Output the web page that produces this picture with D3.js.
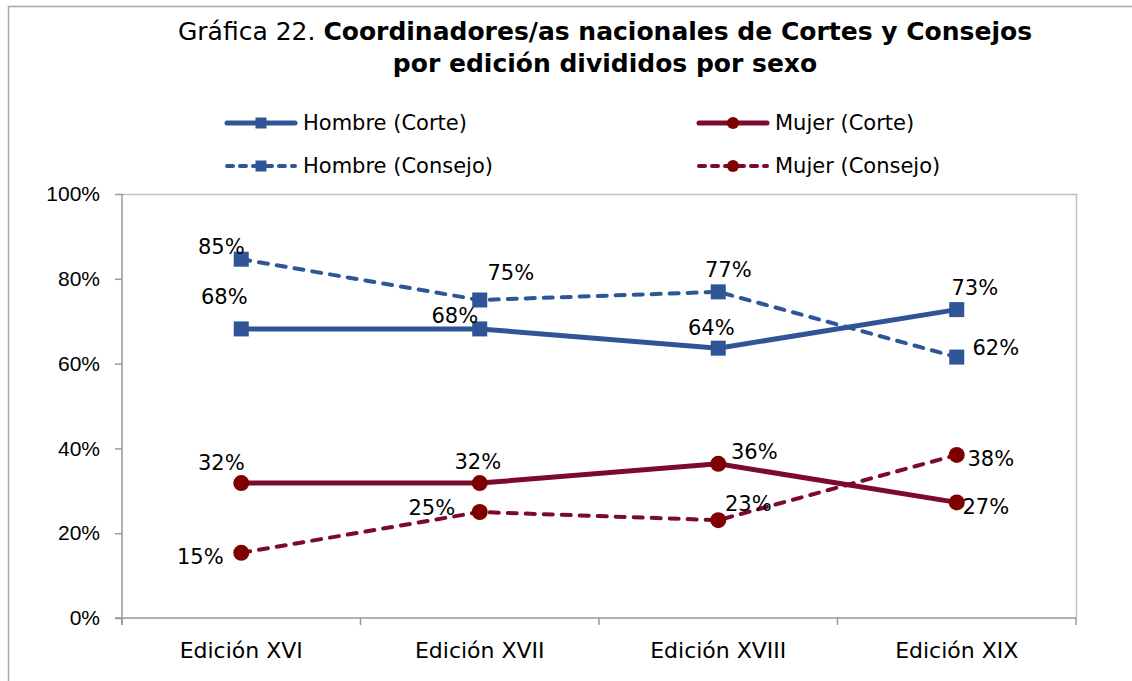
<!DOCTYPE html>
<html>
<head>
<meta charset="utf-8">
<script src="https://cdn.jsdelivr.net/npm/d3@7"></script>
<style>
  body { margin: 0; background: #fff; }
  svg { font-family: "Century Gothic", "DejaVu Sans", sans-serif; }
</style>
</head>
<body>
<svg id="chart"></svg>
<script>
// data (percent)
const categories = ["Edición XVI", "Edición XVII", "Edición XVIII", "Edición XIX"];
const hombreCorte = [68.18, 68.18, 63.64, 72.73];
const mujerCorte = [31.82, 31.82, 36.36, 27.27];
const hombreConsejo = [84.62, 75.0, 76.92, 61.54];
const mujerConsejo = [15.38, 25.0, 23.08, 38.46];
const yTicks = [0, 20, 40, 60, 80, 100];

const width = 1132;
const height = 681;
const margin = ({ top: 194, right: 56, bottom: 63, left: 122 });

const blue = "#2f5597";
const red = "#7b0a2c";
const redDot = "#7f0000";
const fs = 21;

// where each data label sits, relative to its point
const labelShift = {
    hc: [[-17, -32], [-25, -13], [-7, -20], [18, -22]],
    hs: [[-20, -12], [31, -27], [10, -22], [39, -9]],
    mc: [[-20, -20], [-2, -21], [36, -12], [29, 5]],
    ms: [[-41, 4], [-48, -4], [30, -16], [34, 4]]
};

const series = [
    { key: "hc", name: "Hombre (Corte)", values: hombreCorte, color: blue, fill: blue, dash: null, w: 5, shape: "square" },
    { key: "mc", name: "Mujer (Corte)", values: mujerCorte, color: red, fill: redDot, dash: null, w: 5, shape: "circle" },
    { key: "hs", name: "Hombre (Consejo)", values: hombreConsejo, color: blue, fill: blue, dash: "9,9", w: 4, shape: "square" },
    { key: "ms", name: "Mujer (Consejo)", values: mujerConsejo, color: red, fill: redDot, dash: "9,9", w: 4, shape: "circle" }
];

const svg = d3.select("#chart")
    .attr("width", width)
    .attr("height", height);

// outer chart border
svg.append("rect")
    .attr("x", 8.5).attr("y", 6.5)
    .attr("width", width + 10).attr("height", height + 10)
    .attr("fill", "none")
    .attr("stroke", "#a6a6a6")
    .attr("stroke-width", 1.5);

const xScale = d3.scaleBand()
    .domain(categories)
    .range([margin.left, width - margin.right])
    .padding(0);

const yScale = d3.scaleLinear()
    .domain([0, 100])
    .range([height - margin.bottom, margin.top]);

const cx = c => xScale(c) + xScale.bandwidth() / 2;

// plot area border (top and right)
svg.append("path")
    .attr("d", `M${margin.left},${margin.top + 0.5}H${width - margin.right + 0.5}V${height - margin.bottom}`)
    .attr("fill", "none")
    .attr("stroke", "#bfbfbf")
    .attr("stroke-width", 1.5);

// y axis
const yAxis = svg.append("g")
    .attr("transform", `translate(${margin.left},0)`)
    .call(d3.axisLeft(yScale).tickValues(yTicks).tickSize(7).tickPadding(15).tickFormat(d => d + "%"));
yAxis.selectAll("text").attr("font-size", fs).attr("fill", "#000").attr("font-family", null);
yAxis.selectAll("line, path").attr("stroke", "#999").attr("stroke-width", 1.5);
yAxis.select(".domain").attr("d", `M0,${yScale(0) + 7}V${yScale(100)}`);

// x axis: labels centred in bands, ticks on band edges
const xAxis = svg.append("g")
    .attr("transform", `translate(0,${yScale(0)})`);
xAxis.append("line")
    .attr("x1", margin.left - 7).attr("x2", width - margin.right)
    .attr("stroke", "#999").attr("stroke-width", 1.5);
xAxis.selectAll(".tk")
    .data(categories.map(c => xScale(c)).concat([xScale.range()[1]]))
    .join("line")
    .attr("x1", d => d).attr("x2", d => d)
    .attr("y1", 0).attr("y2", 7)
    .attr("stroke", "#999").attr("stroke-width", 1.5);
xAxis.selectAll(".lbl")
    .data(categories)
    .join("text")
    .attr("x", d => cx(d))
    .attr("y", 32)
    .attr("text-anchor", "middle")
    .attr("dominant-baseline", "central")
    .attr("font-size", 22)
    .text(d => d);

function marker(g, shape, color, size) {
    if (shape === "square") {
        g.append("rect")
            .attr("x", -size / 2).attr("y", -size / 2)
            .attr("width", size).attr("height", size)
            .attr("fill", color);
    } else {
        g.append("circle").attr("r", size / 2 + 0.5).attr("fill", color);
    }
}

const line = d3.line()
    .x((d, i) => cx(categories[i]))
    .y(d => yScale(d));

// lines, markers, labels
series.forEach(s => {
    const g = svg.append("g");
    g.append("path")
        .attr("d", line(s.values))
        .attr("fill", "none")
        .attr("stroke", s.color)
        .attr("stroke-width", s.w)
        .attr("stroke-linecap", "round")
        .attr("stroke-dasharray", s.dash);

    s.values.forEach((v, i) => {
        const m = g.append("g")
            .attr("transform", `translate(${cx(categories[i])},${yScale(v)})`);
        marker(m, s.shape, s.fill, 15);
    });

    g.selectAll("text")
        .data(s.values)
        .join("text")
        .attr("x", (d, i) => cx(categories[i]) + labelShift[s.key][i][0])
        .attr("y", (d, i) => yScale(d) + labelShift[s.key][i][1])
        .attr("text-anchor", "middle")
        .attr("dominant-baseline", "central")
        .attr("font-size", fs)
        .text(d => Math.round(d) + "%");
});

// legend
const legendPos = [[225, 123], [697, 123], [225, 166], [697, 166]];
series.forEach((s, i) => {
    const lg = svg.append("g")
        .attr("transform", `translate(${legendPos[i][0]},${legendPos[i][1]})`);
    lg.append("line")
        .attr("x1", 2).attr("x2", 70)
        .attr("stroke", s.color)
        .attr("stroke-width", s.w)
        .attr("stroke-linecap", "round")
        .attr("stroke-dasharray", s.dash ? "6,7" : null);
    const m = lg.append("g").attr("transform", "translate(36,0)");
    marker(m, s.shape, s.fill, 11);
    lg.append("text")
        .attr("x", 78)
        .attr("dominant-baseline", "central")
        .attr("font-size", fs)
        .text(s.name);
});

// title
const title = svg.append("text")
    .attr("x", 605)
    .attr("y", 31)
    .attr("text-anchor", "middle")
    .attr("dominant-baseline", "central")
    .attr("font-size", 25);
title.append("tspan").text("Gráfica 22. ");
title.append("tspan").attr("font-weight", "bold").text("Coordinadores/as nacionales de Cortes y Consejos");

svg.append("text")
    .attr("x", 605)
    .attr("y", 63)
    .attr("text-anchor", "middle")
    .attr("dominant-baseline", "central")
    .attr("font-size", 25)
    .attr("font-weight", "bold")
    .text("por edición divididos por sexo");
</script>
</body>
</html>
